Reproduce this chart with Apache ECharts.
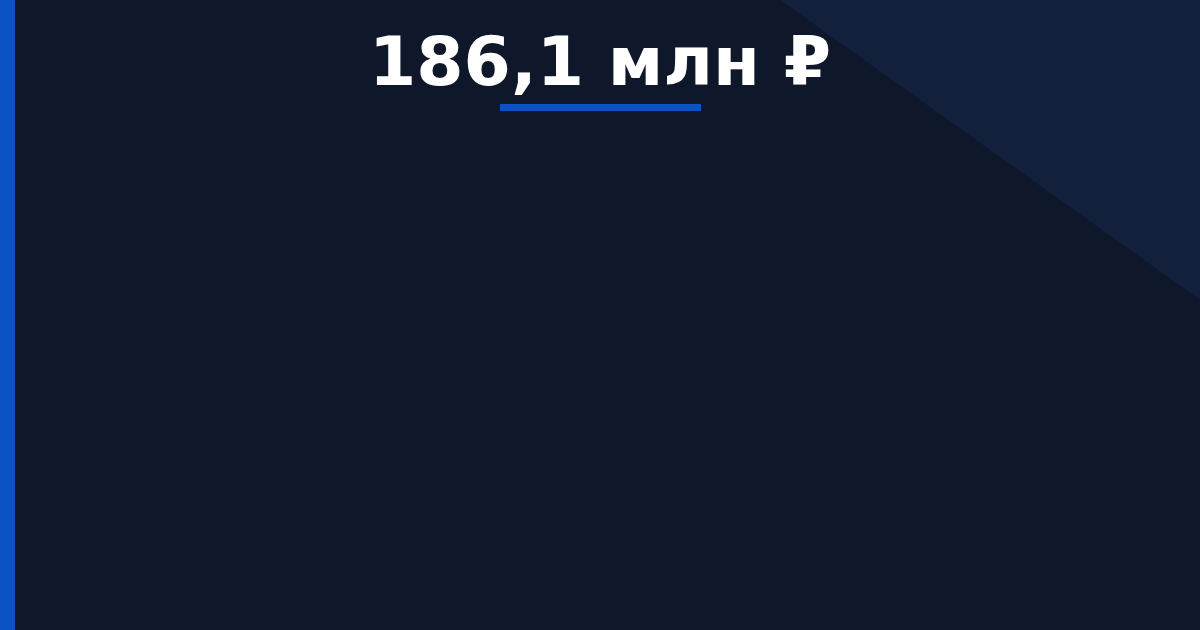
<!DOCTYPE html>
<html>
<head>
<meta charset="utf-8">
<script src="https://cdn.jsdelivr.net/npm/echarts@6/dist/echarts.min.js"></script>
<style>
  html, body { margin: 0; padding: 0; background: #0f172a; }
  #chart { width: 1200px; height: 630px; }
</style>
</head>
<body>
<div id="chart"></div>
<script>
// headline figure
const totalValue = [186.1]
const unitLabel = ['млн ₽']

const headline = totalValue[0].toFixed(1).replace('.', ',') + ' ' + unitLabel[0]

const chart = echarts.init(document.getElementById('chart'))
chart.setOption({
  backgroundColor: '#0f172a',
  animation: false,
  title: {
    text: headline,
    left: 'center',
    top: 28,
    textStyle: {
      color: '#ffffff',
      fontFamily: 'DejaVu Sans',
      fontWeight: 'bold',
      fontSize: 68
    }
  },
  graphic: [
    {
      // light triangle top right
      type: 'polygon',
      z: -1,
      shape: { points: [[780, 0], [1200, 0], [1200, 300]] },
      style: { fill: '#12203b' }
    },
    {
      // left accent bar
      type: 'rect',
      shape: { x: 0, y: 0, width: 15, height: 630 },
      style: { fill: '#0b52c4' }
    },
    {
      // underline
      type: 'rect',
      shape: { x: 500, y: 104, width: 201, height: 7 },
      style: { fill: '#0b52c4' }
    }
  ]
})
</script>
</body>
</html>
